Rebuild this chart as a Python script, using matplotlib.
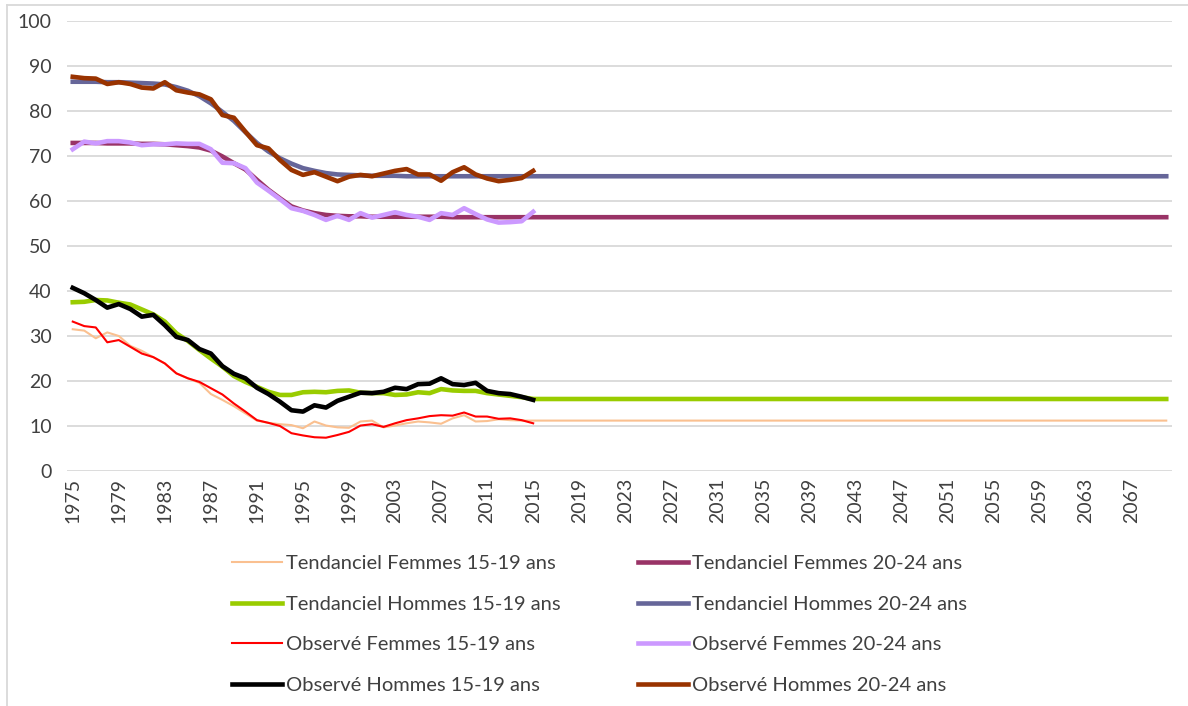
import matplotlib
matplotlib.use("Agg")
import matplotlib.pyplot as plt
from matplotlib.lines import Line2D

plt.rcParams['font.family'] = ['Lato', 'DejaVu Sans']

years = list(range(1975, 2071))
obs_years = list(range(1975, 2016))
n_proj = len(years) - len(obs_years)

# tendanciel series: read values 1975-2015, then flat level to 2070
tend_f15 = [31.5, 31.2, 29.5, 30.8, 30.0, 27.8, 26.7, 25.3, 23.9, 21.7,
            20.6, 19.6, 17.1, 15.8, 14.4, 12.8, 11.2, 10.7, 10.4, 10.2,
            9.5, 11.0, 10.1, 9.7, 9.6, 11.0, 11.2, 9.7, 10.1, 10.6,
            11.0, 10.8, 10.5, 11.7, 12.4, 11.0, 11.1, 11.5, 11.3, 11.2,
            11.2] + [11.2] * n_proj
tend_h15 = [37.5, 37.6, 38.0, 37.9, 37.4, 37.0, 35.9, 34.8, 33.2, 30.6,
            28.9, 26.9, 25.0, 23.2, 21.1, 19.8, 18.7, 17.6, 16.9, 16.9,
            17.5, 17.6, 17.5, 17.8, 17.9, 17.4, 17.3, 17.3, 16.9, 17.0,
            17.5, 17.3, 18.2, 17.9, 17.8, 17.8, 17.3, 17.0, 16.7, 16.4,
            16.0] + [16.0] * n_proj
tend_f20 = [72.9, 72.9, 72.9, 72.8, 72.8, 72.8, 72.7, 72.7, 72.6, 72.4,
            72.2, 71.9, 71.2, 69.9, 68.4, 67.0, 64.7, 62.5, 60.6, 58.8,
            57.9, 57.3, 56.9, 56.7, 56.6, 56.6, 56.5, 56.5, 56.5, 56.5,
            56.5, 56.5, 56.5, 56.4, 56.4, 56.4, 56.4, 56.4, 56.4, 56.4,
            56.4] + [56.4] * n_proj
tend_h20 = [86.5, 86.5, 86.5, 86.4, 86.4, 86.3, 86.2, 86.1, 85.9, 85.3,
            84.5, 83.3, 81.7, 79.8, 77.8, 75.3, 72.9, 71.0, 69.5, 68.3,
            67.3, 66.7, 66.2, 65.9, 65.8, 65.7, 65.6, 65.6, 65.6, 65.5,
            65.5, 65.5, 65.5, 65.5, 65.5, 65.5, 65.5, 65.5, 65.5, 65.5,
            65.5] + [65.5] * n_proj

obs_f15 = [33.2, 32.2, 31.9, 28.6, 29.1, 27.6, 26.1, 25.3, 23.9, 21.7,
           20.6, 19.8, 18.4, 17.0, 15.0, 13.2, 11.3, 10.7, 10.0, 8.4,
           7.9, 7.5, 7.4, 8.0, 8.7, 10.1, 10.4, 9.8, 10.6, 11.3,
           11.7, 12.2, 12.4, 12.3, 13.0, 12.1, 12.1, 11.6, 11.7, 11.3,
           10.6]
obs_h15 = [40.7, 39.5, 38.0, 36.3, 37.1, 36.0, 34.3, 34.7, 32.4, 29.8,
           29.1, 27.1, 26.1, 23.3, 21.6, 20.6, 18.5, 17.1, 15.4, 13.5,
           13.2, 14.6, 14.1, 15.6, 16.5, 17.4, 17.3, 17.6, 18.5, 18.2,
           19.3, 19.4, 20.6, 19.3, 19.1, 19.6, 17.8, 17.3, 17.1, 16.5,
           15.8]
obs_f20 = [71.5, 73.2, 72.8, 73.3, 73.3, 73.0, 72.4, 72.6, 72.6, 72.8,
           72.7, 72.7, 71.5, 68.5, 68.4, 67.3, 64.1, 62.3, 60.4, 58.4,
           57.8, 56.9, 55.8, 56.7, 55.8, 57.3, 56.3, 56.9, 57.5, 56.9,
           56.5, 55.8, 57.3, 56.9, 58.4, 57.1, 55.9, 55.2, 55.3, 55.5,
           57.6]
obs_h20 = [87.6, 87.3, 87.2, 86.0, 86.4, 86.0, 85.2, 85.0, 86.4, 84.6,
           84.1, 83.7, 82.6, 79.1, 78.5, 75.4, 72.4, 71.7, 69.1, 66.9,
           65.8, 66.4, 65.4, 64.4, 65.4, 65.8, 65.5, 66.1, 66.7, 67.1,
           65.9, 65.9, 64.5, 66.4, 67.5, 65.9, 65.0, 64.4, 64.7, 65.1,
           66.7]

labels_15 = ["Tendanciel Femmes 15-19 ans", "Tendanciel Hommes 15-19 ans",
             "Observé Femmes 15-19 ans", "Observé Hommes 15-19 ans"]
labels_20 = ["Tendanciel Femmes 20-24 ans", "Tendanciel Hommes 20-24 ans",
             "Observé Femmes 20-24 ans", "Observé Hommes 20-24 ans"]

fig = plt.figure(figsize=(11.88, 7.06), dpi=100)
ax = fig.add_axes([67 / 1188, 1 - 471 / 706, (1172 - 67) / 1188, 450 / 706])

thick = 3.3
thin = 1.5
l1, = ax.plot(years, tend_f15, color="#FAC090", lw=thin, zorder=2)
l2, = ax.plot(years, tend_h15, color="#99CC00", lw=thick, zorder=2)
l3, = ax.plot(obs_years, obs_f15, color="#FF0000", lw=thin, zorder=3)
l4, = ax.plot(obs_years, obs_h15, color="#000000", lw=thick, zorder=3)
l5, = ax.plot(years, tend_f20, color="#993366", lw=thick, zorder=2)
l6, = ax.plot(years, tend_h20, color="#666699", lw=thick, zorder=2)
l7, = ax.plot(obs_years, obs_f20, color="#CC99FF", lw=thick, zorder=3)
l8, = ax.plot(obs_years, obs_h20, color="#993300", lw=thick, zorder=3)

ax.set_xlim(1974.5, 2070.5)
ax.set_ylim(0, 100)
ax.set_yticks(range(0, 101, 10))
ax.set_xticks(range(1975, 2070, 4))
ax.tick_params(axis="y", length=0, pad=11, labelsize=14, labelcolor="#404040")
ax.tick_params(axis="x", length=0, pad=5, labelsize=14, labelcolor="#404040",
               labelrotation=90)
ax.grid(axis="y", color="#D9D9D9", lw=1.3)
ax.set_axisbelow(True)
for s in ax.spines.values():
    s.set_visible(False)

leg_kw = dict(loc="upper left", frameon=False, fontsize=14.5, handlelength=2.5,
              handletextpad=0.2, labelspacing=1.17, borderpad=0, borderaxespad=0,
              labelcolor="#404040")
leg1 = fig.legend([l1, l2, l3, l4], labels_15,
                  bbox_to_anchor=(232 / 1188, 1 - 555 / 706), **leg_kw)
leg2 = fig.legend([l5, l6, l7, l8], labels_20,
                  bbox_to_anchor=(638 / 1188, 1 - 555 / 706), **leg_kw)

# chart area border (top and left visible)
fig.add_artist(Line2D([7 / 1188, 1], [1 - 5 / 706, 1 - 5 / 706], color="#D9D9D9", lw=1.3))
fig.add_artist(Line2D([7 / 1188, 7 / 1188], [0, 1 - 5 / 706], color="#D9D9D9", lw=1.3))

fig.savefig("out.png", dpi=100)
